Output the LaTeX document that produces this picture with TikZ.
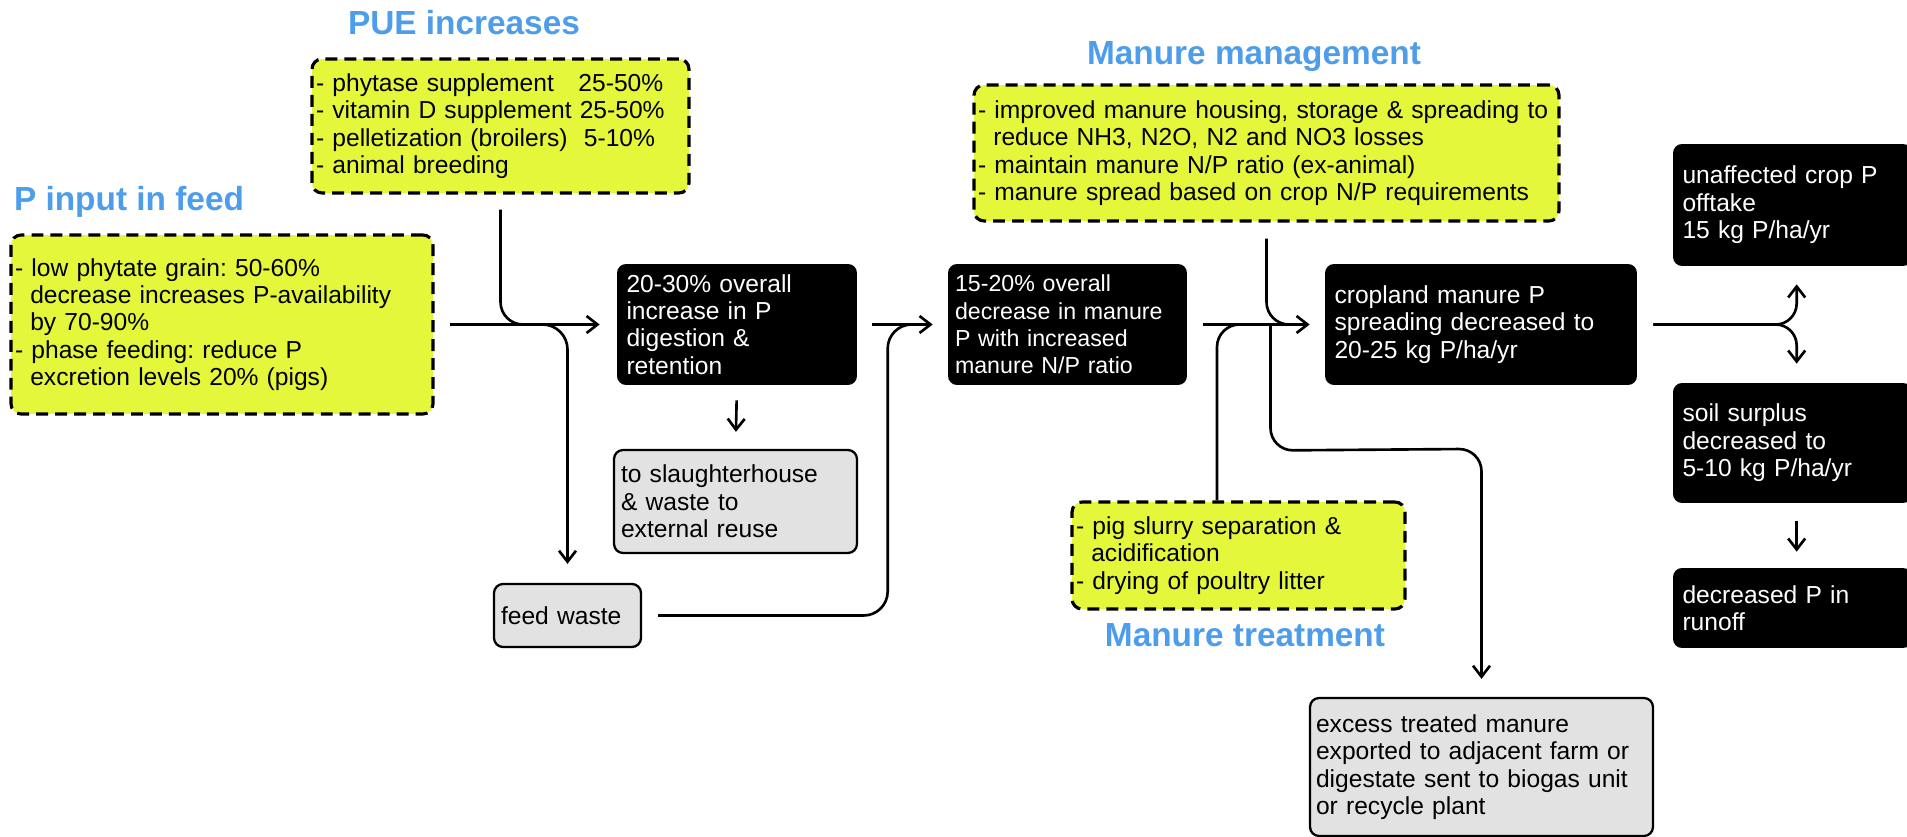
\documentclass[tikz,border=0pt]{standalone}
\usepackage{fontspec}
\setmainfont{Liberation Sans}
\usetikzlibrary{arrows.meta, positioning, calc}

\definecolor{limey}{RGB}{228,247,58}
\definecolor{titleblue}{RGB}{78,157,235}
\definecolor{boxgray}{RGB}{226,226,226}

\hyphenpenalty=10000
\exhyphenpenalty=10000
\frenchspacing

\newcommand{\ind}{\hspace*{0.62em}}
\newcommand{\boxfont}{\fontsize{14}{15.6}\selectfont}

\tikzset{
  measure/.style={draw=black, dash pattern=on 6.8pt off 4pt, line width=1.8pt,
    fill=limey, rounded corners=0.2cm, align=left, font=\boxfont,
    inner xsep=0.08cm, inner ysep=0.05cm, anchor=center},
  effect/.style={fill=black, text=white, rounded corners=0.18cm, align=left,
    font=\boxfont, inner xsep=0.19cm, inner ysep=0.05cm, anchor=center},
  sink/.style={draw=black, line width=1.3pt, fill=boxgray, rounded corners=0.18cm,
    align=left, font=\boxfont, inner xsep=0.14cm, inner ysep=0.05cm, anchor=center},
  heading/.style={text=titleblue, font=\fontsize{19}{23}\selectfont\bfseries},
  flow/.style={line width=1.5pt},
  flowarr/.style={flow, -{Straight Barb[length=2.2mm,width=3.4mm]}},
}

\begin{document}
\begin{tikzpicture}[x=0.02cm, y=-0.02cm]
  \clip (0,0) rectangle (1907,837);
  \fill[white] (0,0) rectangle (1907,837);

  % Titles
  \node[heading] (tpue) at (464,23) {PUE increases};
  \node[heading] (tpin) at (129,202) {P input in feed};
  \node[heading] (tmgmt) at (1254,57) {Manure management};
  \node[heading] (ttreat) at (1245,635) {Manure treatment};

  % Measures (dashed yellow)
  \node[measure, minimum width=7.54cm, minimum height=2.68cm, text width=7.38cm] (pue) at (500.5,126)
    {- phytase supplement\ \ \ 25-50\%\\- vitamin D supplement 25-50\%\\- pelletization (broilers)\ \ 5-10\%\\- animal breeding};
  \node[measure, minimum width=8.44cm, minimum height=3.58cm, text width=8.28cm] (pin) at (222,324.5)
    {- low phytate grain: 50-60\%\\\ind decrease increases P-availability\\\ind by 70-90\%\\- phase feeding: reduce P\\\ind excretion levels 20\% (pigs)};
  \node[measure, minimum width=11.7cm, minimum height=2.72cm, text width=11.54cm] (mgmt) at (1266.5,153)
    {- improved manure housing, storage \& spreading to\\\ind reduce NH3, N2O, N2 and NO3 losses\\- maintain manure N/P ratio (ex-animal)\\- manure spread based on crop N/P requirements};
  \node[measure, minimum width=6.66cm, minimum height=2.14cm, text width=6.5cm] (treat) at (1238.5,555.5)
    {- pig slurry separation \&\\\ind acidification\\- drying of poultry litter};

  % Effects (black)
  \node[effect, minimum width=4.8cm, minimum height=2.42cm, text width=4.42cm] (dig) at (737,324.5)
    {20-30\% overall\\increase in P\\digestion \&\\retention};
  \node[effect, minimum width=4.78cm, minimum height=2.42cm, text width=4.5cm, inner xsep=0.14cm,
    font=\fontsize{13.2}{15.6}\selectfont] (m15) at (1067.5,324.5)
    {15-20\% overall\\decrease in manure\\P with increased\\manure N/P ratio};
  \node[effect, minimum width=6.24cm, minimum height=2.42cm, text width=5.86cm] (crop) at (1481,324.5)
    {cropland manure P\\spreading decreased to\\20-25 kg P/ha/yr};
  \node[effect, minimum width=4.78cm, minimum height=2.44cm, text width=4.4cm] (unaff) at (1792.5,205)
    {unaffected crop P\\offtake\\15 kg P/ha/yr};
  \node[effect, minimum width=4.78cm, minimum height=2.4cm, text width=4.4cm] (soil) at (1792.5,443)
    {soil surplus\\decreased to\\5-10 kg P/ha/yr};
  \node[effect, minimum width=4.78cm, minimum height=1.6cm, text width=4.4cm] (runoff) at (1792.5,608)
    {decreased P in\\runoff};

  % Sinks (grey)
  \node[sink, minimum width=4.86cm, minimum height=2.06cm, text width=4.58cm] (slh) at (735.5,501.5)
    {to slaughterhouse\\\& waste to\\external reuse};
  \node[sink, minimum width=2.94cm, minimum height=1.26cm, text width=2.66cm] (fw) at (567.5,615.5)
    {feed waste};
  \node[sink, minimum width=6.86cm, minimum height=2.76cm, text width=6.62cm, inner xsep=0.12cm] (export) at (1481.5,767)
    {excess treated manure\\exported to adjacent farm or\\digestate sent to biogas unit\\or recycle plant};

  % Junctions
  \coordinate (jpue) at (pue.south |- pin.east);
  \coordinate (jfw) at ($(pin.east -| m15.west)+(-60,0)$);
  \coordinate (jmg) at (mgmt.south |- pin.east);
  \coordinate (jtr) at ($(treat.north |- pin.east)+(-21.5,0)$);
  \coordinate (jex) at ($(jmg)+(4,0)$);
  \coordinate (jsp) at ($(unaff.south west)+(124,0)$);

  % Feed to digestion
  \draw[flowarr, shorten <=0.3cm, shorten >=0.34cm] (pin.east) -- (pin.east -| dig.west);
  \draw[flow, rounded corners=0.45cm] ($(pue.south)+(0,15)$) -- (jpue) -- ++(40,0);
  \draw[flowarr, rounded corners=0.5cm] ($(jpue)+(28,0)$) -- (fw.north |- pin.east) -- ($(fw.north)+(0,-19)$);
  \draw[flowarr, shorten <=0.3cm, shorten >=0.34cm] (dig.south) -- (slh.north);

  % Digestion to manure
  \draw[flowarr, shorten <=0.3cm, shorten >=0.3cm] (dig.east) -- (m15.west);
  \draw[flow, rounded corners=0.48cm] ($(fw.east)+(16,0)$) -- (fw.east -| jfw) -- (jfw) -- ++(40,0);

  % Manure to cropland
  \draw[flowarr, shorten <=0.32cm, shorten >=0.3cm] (m15.east) -- (crop.west);
  \draw[flow, rounded corners=0.45cm] ($(mgmt.south)+(0,16)$) -- (jmg) -- ++(40,0);
  \draw[flow, rounded corners=0.45cm] (treat.north -| jtr) -- (jtr) -- ++(40,0);
  \draw[flowarr, rounded corners=0.45cm] (jex) -- ($(jex)+(0,126)$) -- ($(export.north)+(0,-248)$) -- ($(export.north)+(0,-18)$);

  % Cropland split
  \draw[flowarr, rounded corners=0.42cm] ($(crop.east)+(16,0)$) -- (jsp |- crop.east) -- ($(jsp)+(0,18)$);
  \draw[flowarr, rounded corners=0.42cm] ($(crop.east)+(16,0)$) -- (jsp |- crop.east) -- ($(jsp |- soil.north)+(0,-19)$);
  \draw[flowarr] ($(soil.south west)+(124,18)$) -- ($(runoff.north west)+(124,-16)$);
\end{tikzpicture}
\end{document}
